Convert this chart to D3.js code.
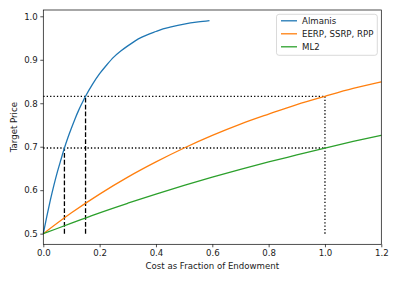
<!DOCTYPE html>
<html><head><meta charset="utf-8">
<script src="https://cdn.jsdelivr.net/npm/d3@7"></script>
<style>
html,body{margin:0;padding:0;background:#fff;}
text{font-family:"DejaVu Sans",sans-serif;}
</style></head>
<body><svg id="c" width="395" height="285"></svg>
<script>
// Data
const almanisX = [0, 0.0125, 0.025, 0.0375, 0.05, 0.0625, 0.075, 0.0875, 0.1, 0.1125, 0.125, 0.1375, 0.15, 0.175, 0.2, 0.225, 0.25, 0.275, 0.3, 0.325, 0.35, 0.375, 0.4, 0.425, 0.45, 0.5, 0.55, 0.59];
const almanisY = [0.5, 0.540, 0.577, 0.611, 0.642, 0.670, 0.697, 0.721, 0.743, 0.764, 0.783, 0.800, 0.816, 0.844, 0.868, 0.888, 0.906, 0.920, 0.932, 0.943, 0.952, 0.959, 0.965, 0.971, 0.975, 0.982, 0.987, 0.990];
const eerpX = [0, 0.1, 0.2, 0.3, 0.4, 0.5, 0.6, 0.7, 0.8, 0.9, 1.0, 1.1, 1.2];
const eerpY = [0.5, 0.548, 0.591, 0.630, 0.665, 0.697, 0.726, 0.752, 0.775, 0.797, 0.816, 0.834, 0.849];
const ml2X = [0, 0.1, 0.2, 0.3, 0.4, 0.5, 0.6, 0.7, 0.8, 0.9, 1.0, 1.1, 1.2];
const ml2Y = [0.5, 0.524, 0.548, 0.570, 0.591, 0.611, 0.630, 0.648, 0.665, 0.681, 0.697, 0.712, 0.726];
const seriesNames = ["Almanis", "EERP, SSRP, RPP", "ML2"];
const seriesColors = ["#1f77b4", "#ff7f0e", "#2ca02c"];
const xTicks = [0, 0.2, 0.4, 0.6, 0.8, 1.0, 1.2];
const yTicks = [0.5, 0.6, 0.7, 0.8, 0.9, 1.0];
// reference lines: [x1,y1,x2,y2]
const dottedLines = [[0, 0.816, 1.0, 0.816], [0, 0.697, 1.0, 0.697], [1.0, 0.5, 1.0, 0.816]];
const dashedLines = [[0.075, 0.5, 0.075, 0.697], [0.15, 0.5, 0.15, 0.816]];

const svg = d3.select("#c");
const L = 43.3, R = 381.3, T = 10, B = 244.3;
const x = d3.scaleLinear().domain([0, 1.2]).range([L, R]);
const y = d3.scaleLinear().domain([0.4755, 1.0145]).range([B, T]);

const fs = 8.6;
const col = "#1a1a1a";

// reference lines
const g = svg.append("g");
dottedLines.forEach(d => g.append("line")
  .attr("x1", x(d[0])).attr("y1", y(d[1])).attr("x2", x(d[2])).attr("y2", y(d[3]))
  .attr("stroke", "#000").attr("stroke-width", 1.29).attr("stroke-dasharray", "1.3,2.1"));
dashedLines.forEach(d => g.append("line")
  .attr("x1", x(d[0])).attr("y1", y(d[1])).attr("x2", x(d[2])).attr("y2", y(d[3]))
  .attr("stroke", "#000").attr("stroke-width", 1.29).attr("stroke-dasharray", "4.8,2.1"));

const line = d3.line().x(d => x(d[0])).y(d => y(d[1])).curve(d3.curveMonotoneX);
const series = [
  d3.zip(almanisX, almanisY),
  d3.zip(eerpX, eerpY),
  d3.zip(ml2X, ml2Y)
];
series.forEach((s, i) => svg.append("path").datum(s).attr("d", line)
  .attr("fill", "none").attr("stroke", seriesColors[i]).attr("stroke-width", 1.29));

// axes
const xAxis = d3.axisBottom(x).tickValues(xTicks).tickFormat(d3.format(".1f")).tickSizeOuter(0).tickSize(3).tickPadding(2.5);
const yAxis = d3.axisLeft(y).tickValues(yTicks).tickFormat(d3.format(".1f")).tickSizeOuter(0).tickSize(3).tickPadding(2.5);
const gx = svg.append("g").attr("transform", `translate(0,${B})`).call(xAxis);
const gy = svg.append("g").attr("transform", `translate(${L},0)`).call(yAxis);
[gx, gy].forEach(a => {
  a.select(".domain").remove();
  a.selectAll(".tick line").attr("stroke", "#000").attr("stroke-width", 0.69);
  a.selectAll(".tick text").attr("font-size", fs).attr("fill", col).attr("font-family", "DejaVu Sans");
});
// frame
svg.append("rect").attr("x", L).attr("y", T).attr("width", R - L).attr("height", B - T)
  .attr("fill", "none").attr("stroke", "#000").attr("stroke-width", 0.69);

// labels
svg.append("text").attr("x", (L + R) / 2).attr("y", 269).attr("text-anchor", "middle")
  .attr("font-size", fs).attr("fill", col).text("Cost as Fraction of Endowment");
svg.append("text").attr("transform", `translate(16.5,${(T + B) / 2}) rotate(-90)`).attr("text-anchor", "middle")
  .attr("font-size", fs).attr("fill", col).text("Target Price");

// legend
const lg = svg.append("g");
lg.append("rect").attr("x", 276.5).attr("y", 14.3).attr("width", 100.8).attr("height", 41)
  .attr("rx", 2.5).attr("fill", "#fff").attr("fill-opacity", 0.8).attr("stroke", "#d0d0d0").attr("stroke-width", 0.8);
seriesNames.forEach((n, i) => {
  const yy = 20.8 + i * 13;
  lg.append("line").attr("x1", 281).attr("x2", 297).attr("y1", yy).attr("y2", yy)
    .attr("stroke", seriesColors[i]).attr("stroke-width", 1.29);
  lg.append("text").attr("x", 302).attr("y", yy).attr("dy", "0.35em")
    .attr("font-size", fs).attr("fill", col).text(n);
});
</script></body></html>
